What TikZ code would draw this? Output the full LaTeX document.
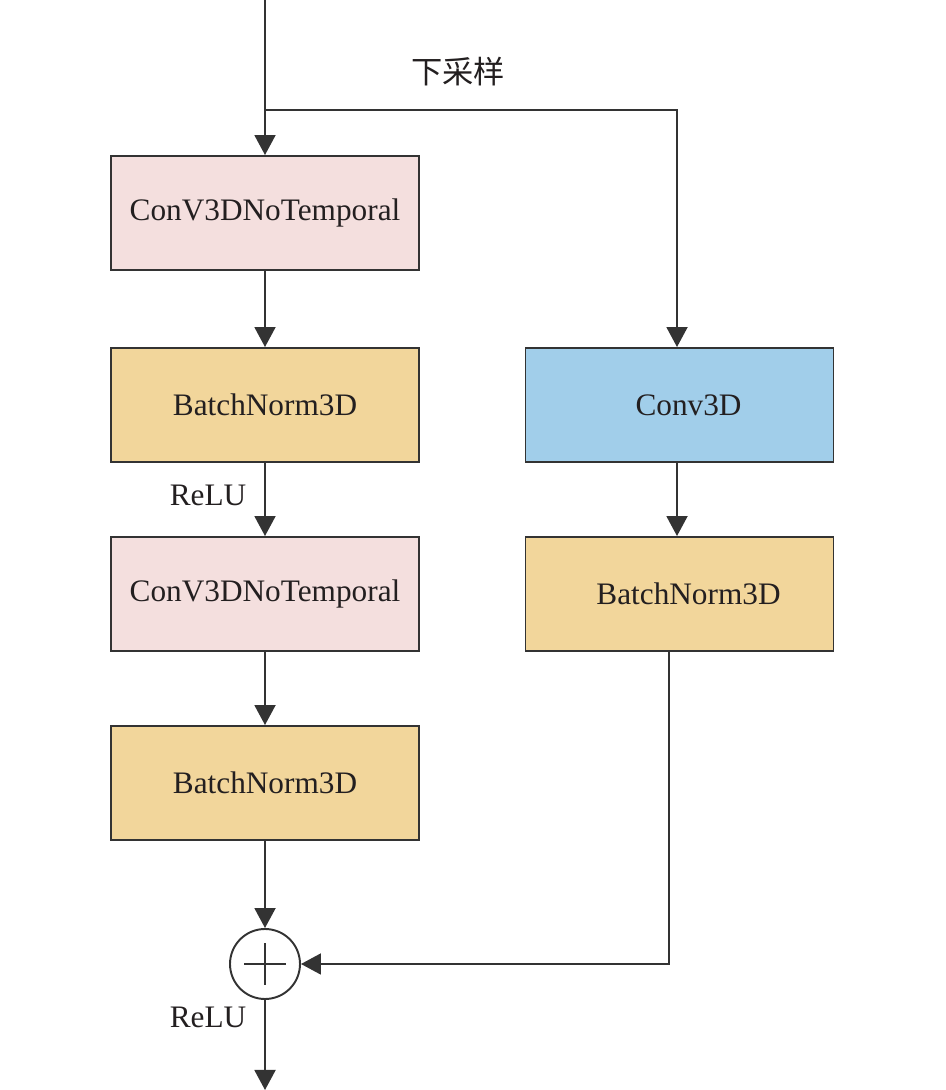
\documentclass[tikz,border=0pt]{standalone}
\usepackage{fontspec}
\setmainfont{Liberation Serif}
\newfontfamily\cjk{Noto Sans CJK SC}
\usetikzlibrary{arrows.meta}
\definecolor{convpink}{HTML}{F4DFDE}
\definecolor{bnorange}{HTML}{F2D69B}
\definecolor{convblue}{HTML}{A1CEEA}
\definecolor{linegray}{HTML}{333333}
\definecolor{textgray}{HTML}{231F20}
\tikzset{
  layer/.style={draw=linegray, line width=1.1pt, minimum width=6.16cm, minimum height=2.28cm,
    text=textgray, font=\fontsize{17.8}{21}\selectfont},
  addop/.style={draw=linegray, line width=1.1pt, circle, minimum size=1.4cm, inner sep=0pt},
  flow/.style={draw=linegray, line width=1.1pt, -{Triangle[width=0.42cm,length=0.4cm]}},
  tag/.style={font=\fontsize{17.8}{21}\selectfont, text=textgray}
}
\begin{document}
\begin{tikzpicture}
\useasboundingbox (0,0) rectangle (18.9,21.8);

% main path
\node[layer, fill=convpink] (conva) at (5.3,17.54) {ConV3DNoTemporal};
\node[layer, fill=bnorange] (bna) at (5.3,13.70) {BatchNorm3D};
\node[layer, fill=convpink] (convb) at (5.3,9.92) {ConV3DNoTemporal};
\node[layer, fill=bnorange] (bnb) at (5.3,6.14) {BatchNorm3D};
\node[addop] (add) at (5.3,2.52) {};
\draw[linegray, line width=1.1pt] (add.center) +(-0.42,0) -- +(0.42,0) +(0,-0.42) -- +(0,0.42);

% shortcut
\node[layer, fill=convblue] (convs) at (13.59,13.70) {\hspace{0.36cm}Conv3D};
\node[layer, fill=bnorange] (bns) at (13.59,9.92) {\hspace{0.36cm}BatchNorm3D};

\coordinate (in) at (5.3,21.8);
\coordinate (split) at (5.3,19.6);
\coordinate (out) at (5.3,0);

\draw[flow] (in) -- (conva.north);
\draw[flow] (split) -| (convs.north -| 13.54,0);
\draw[flow] (conva) -- (bna);
\draw[flow] (bna) -- (convb);
\draw[flow] (convb) -- (bnb);
\draw[flow] (bnb) -- (add);
\draw[flow] (convs.south -| 13.54,0) -- (bns.north -| 13.54,0);
\draw[flow] (bns.south -| 13.38,0) |- (add.east);
\draw[flow] (add) -- (out);

\node[tag] (down) at (9.16,20.36) {\cjk 下采样};
\node[tag] (relua) at (4.16,11.9) {ReLU};
\node[tag] (relub) at (4.16,1.46) {ReLU};
\end{tikzpicture}
\end{document}
